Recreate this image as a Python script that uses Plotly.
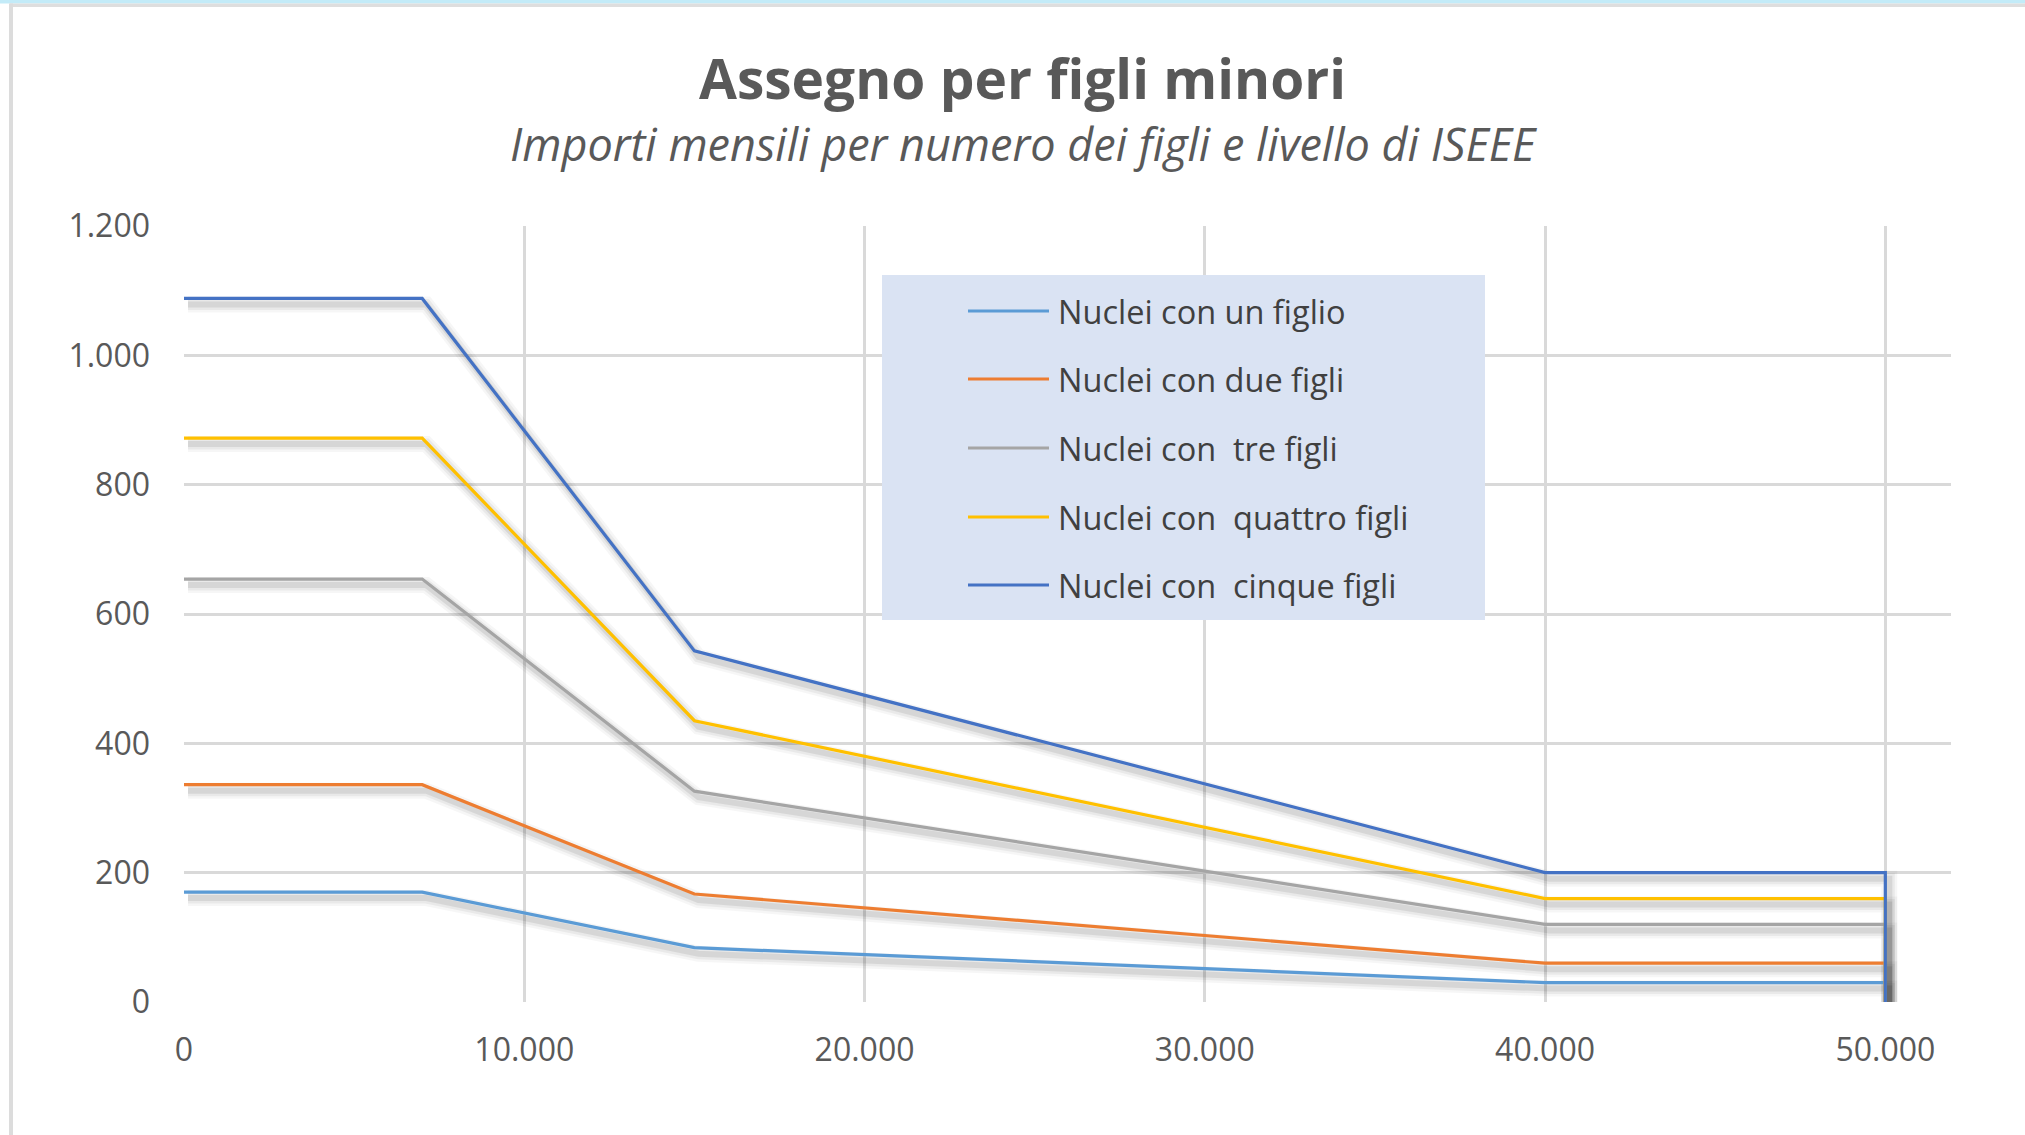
import plotly.graph_objects as go

# ---------------- data ----------------
isee = [0, 7000, 15000, 40000, 50000, 50000]
series_names = [
    "Nuclei con un figlio",
    "Nuclei con due figli",
    "Nuclei con\u00a0 tre figli",
    "Nuclei con\u00a0 quattro figli",
    "Nuclei con\u00a0 cinque figli",
]
un_figlio = [170, 170, 84, 30, 30, 0]
due_figli = [336, 336, 167, 60, 60, 0]
tre_figli = [654, 654, 326, 120, 120, 0]
quattro_figli = [872, 872, 435, 160, 160, 0]
cinque_figli = [1088, 1088, 543, 200, 200, 0]
x_ticks = [0, 10000, 20000, 30000, 40000, 50000]
y_ticks = [0, 200, 400, 600, 800, 1000, 1200]

values = [un_figlio, due_figli, tre_figli, quattro_figli, cinque_figli]
colors = ["#5b9bd5", "#ed7d31", "#a5a5a5", "#ffc000", "#4472c4"]

# ---------------- geometry ----------------
W, H = 2025, 1135
L, R, T, B = 184, 1951, 226, 1002      # plot area in pixels
XMAX, YMAX = 51930, 1200

def px(x):
    return (x - L) / (R - L)

def py(y):
    return (B - y) / (B - T)

fig = go.Figure()

# soft drop shadow (offset copies of each series)
dx = 4 * XMAX / (R - L)
dy = 6 * YMAX / (B - T)
for vals in values:
    for w, a in [(16, 0.035), (11, 0.05), (6, 0.08)]:
        fig.add_trace(go.Scatter(
            x=[v + dx for v in isee], y=[v - dy for v in vals],
            mode="lines", line=dict(color=f"rgba(0,0,0,{a})", width=w),
            hoverinfo="skip", showlegend=False))

for name, vals, c in zip(series_names, values, colors):
    fig.add_trace(go.Scatter(
        x=isee, y=vals, mode="lines", name=name,
        line=dict(color=c, width=3.2), showlegend=False))

shapes = []
annotations = []

# frame decoration (top band and left border)
shapes.append(dict(type="rect", xref="paper", yref="paper",
                   x0=px(0), x1=px(W), y0=py(0), y1=py(3.5),
                   fillcolor="#c3ebf8", line=dict(width=0), layer="above"))
shapes.append(dict(type="rect", xref="paper", yref="paper",
                   x0=px(10), x1=px(W), y0=py(3.5), y1=py(7),
                   fillcolor="#dedede", line=dict(width=0), layer="above"))
shapes.append(dict(type="rect", xref="paper", yref="paper",
                   x0=px(9), x1=px(13), y0=py(3.5), y1=py(H),
                   fillcolor="#dcdcdc", line=dict(width=0), layer="above"))

# manual legend
shapes.append(dict(type="rect", xref="paper", yref="paper",
                   x0=px(882), x1=px(1485), y0=py(275), y1=py(620),
                   fillcolor="#dae3f3", line=dict(width=0), layer="above"))
legend_y = [311, 379, 448, 517, 585]
for name, c, ly in zip(series_names, colors, legend_y):
    shapes.append(dict(type="line", xref="paper", yref="paper",
                       x0=px(968), x1=px(1049), y0=py(ly), y1=py(ly),
                       line=dict(color=c, width=3.2), layer="above"))
    annotations.append(dict(xref="paper", yref="paper", x=px(1056), y=py(ly),
                            xanchor="left", yanchor="middle", showarrow=False,
                            text=name, font=dict(family="Open Sans", size=32.5,
                                                 color="#404040", weight=500)))

# titles
annotations.append(dict(xref="paper", yref="paper", x=px(1022), y=py(77),
                        xanchor="center", yanchor="middle", showarrow=False,
                        text="<b>Assegno per figli minori</b>",
                        font=dict(family="Open Sans", size=55, color="#595959")))
annotations.append(dict(xref="paper", yref="paper", x=px(1023), y=py(144),
                        xanchor="center", yanchor="middle", showarrow=False,
                        text="<i>Importi mensili per numero dei figli e livello di ISEEE</i>",
                        font=dict(family="Open Sans", size=45, color="#595959")))

fig.update_layout(
    width=W, height=H,
    margin=dict(l=L, r=W - R, t=T, b=H - B, pad=0),
    paper_bgcolor="white", plot_bgcolor="white",
    separators=",.",
    showlegend=False,
    shapes=shapes, annotations=annotations,
    font=dict(family="Open Sans", color="#595959"),
)
fig.update_xaxes(
    range=[0, XMAX], tickvals=x_ticks, tickformat=",",
    showgrid=True, gridcolor="#d9d9d9", gridwidth=2.5,
    zeroline=False, showline=False,
    tickfont=dict(family="Open Sans", size=32, color="#595959"),
    ticklabelstandoff=26,
)
fig.update_yaxes(
    range=[0, YMAX], tickvals=y_ticks, tickformat=",",
    showgrid=True, gridcolor="#d9d9d9", gridwidth=2.5,
    zeroline=False, showline=False,
    tickfont=dict(family="Open Sans", size=32, color="#595959"),
    ticklabelstandoff=33,
)

fig.write_html("out.html",
               config={"displayModeBar": False},
               post_script="document.body.style.margin='0';document.body.style.overflow='hidden';")
